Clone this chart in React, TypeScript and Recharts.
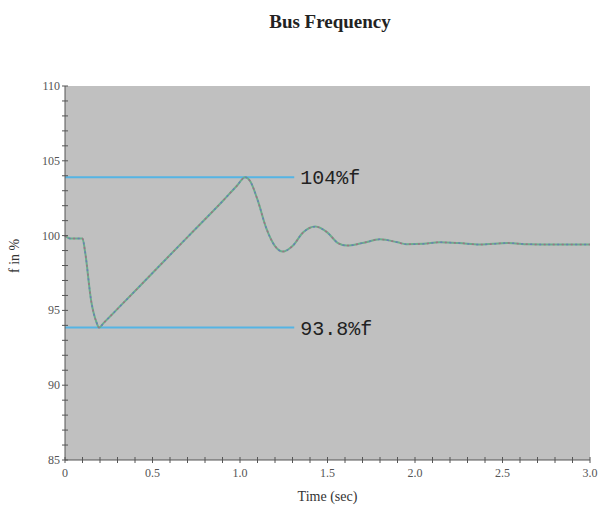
import React from "react";
import {
  LineChart,
  Line,
  XAxis,
  YAxis,
  ReferenceLine,
  ReferenceArea,
} from "recharts";

// time (sec) and bus frequency (% of nominal)
const timeValues = [
  0, 0.03, 0.06, 0.1, 0.115, 0.15, 0.18, 0.195, 0.22, 0.3, 0.5, 0.7, 0.9, 0.98,
  1.03, 1.06, 1.1, 1.15, 1.2, 1.245, 1.3, 1.36, 1.43, 1.5, 1.56, 1.61, 1.7, 1.8,
  1.9, 1.95, 2.05, 2.14, 2.25, 2.37, 2.53, 2.65, 2.8, 3.0,
];
const freqValues = [
  100, 99.8, 99.8, 99.8, 98.9, 95.6, 94.2, 93.85, 94.15, 95.1, 97.5, 99.9,
  102.3, 103.3, 103.9, 103.6, 102.4, 100.5, 99.3, 98.93, 99.3, 100.2, 100.6,
  100.2, 99.5, 99.33, 99.5, 99.75, 99.55, 99.42, 99.45, 99.55, 99.5, 99.4, 99.5,
  99.42, 99.4, 99.4,
];

const limitValues = [103.9, 93.85];
const limitLabels = ["104%f", "93.8%f"];
const limitEnd = 1.31;

const xMajorTicks = [0, 0.5, 1, 1.5, 2, 2.5, 3];
const xTickLabels = ["0", "0.5", "1.0", "1.5", "2.0", "2.5", "3.0"];
const xAllTicks = [
  0, 0.1, 0.2, 0.3, 0.4, 0.5, 0.6, 0.7, 0.8, 0.9, 1, 1.1, 1.2, 1.3, 1.4, 1.5,
  1.6, 1.7, 1.8, 1.9, 2, 2.1, 2.2, 2.3, 2.4, 2.5, 2.6, 2.7, 2.8, 2.9, 3,
];
const yMajorTicks = [85, 90, 95, 100, 105, 110];
const yAllTicks = [
  85, 86, 87, 88, 89, 90, 91, 92, 93, 94, 95, 96, 97, 98, 99, 100, 101, 102,
  103, 104, 105, 106, 107, 108, 109, 110,
];

const data = timeValues.map((t, i) => ({ t, f: freqValues[i] }));

const serif = "'Liberation Serif', 'DejaVu Serif', serif";

function XTick({ x, y, payload }: any) {
  const v = payload.value;
  const idx = xMajorTicks.findIndex((m) => Math.abs(m - v) < 1e-6);
  return (
    <g>
      <line x1={x} x2={x} y1={y - 3} y2={y + 3} stroke="#555" />
      {idx >= 0 && (
        <text x={x} y={y + 17} textAnchor="middle" fontSize={12} fill="#555" fontFamily={serif}>
          {xTickLabels[idx]}
        </text>
      )}
    </g>
  );
}

function YTick({ x, y, payload }: any) {
  const v = payload.value;
  const major = yMajorTicks.includes(v);
  return (
    <g>
      <line x1={x - 3} x2={x + 3} y1={y} y2={y} stroke="#555" />
      {major && (
        <text x={x - 5} y={y + 4} textAnchor="end" fontSize={12} fill="#555" fontFamily={serif}>
          {v}
        </text>
      )}
    </g>
  );
}

export default function App() {
  return (
    <div style={{ position: "absolute", left: 0, top: 0, width: 613, height: 509, background: "#fff" }}>
      <div
        style={{
          position: "absolute",
          top: 11,
          left: 0,
          width: 660,
          textAlign: "center",
          fontFamily: serif,
          fontWeight: "bold",
          fontSize: 19,
          color: "#222",
        }}
      >
        Bus Frequency
      </div>
      <LineChart
        width={613}
        height={509}
        data={data}
        margin={{ top: 86, right: 23, bottom: 0, left: 0 }}
      >
        <ReferenceArea x1={0} x2={3} y1={85} y2={110} fill="#c0c0c0" fillOpacity={1} stroke="none" />
        <XAxis
          dataKey="t"
          type="number"
          domain={[0, 3]}
          ticks={xAllTicks}
          interval={0}
          tick={<XTick />}
          tickLine={false}
          tickSize={0}
          tickMargin={0}
          height={49}
          stroke="#555"
          label={{ value: "Time (sec)", position: "insideBottom", offset: 8, fill: "#333", fontSize: 14, fontFamily: serif }}
        />
        <YAxis
          type="number"
          domain={[85, 110]}
          ticks={yAllTicks}
          interval={0}
          tick={<YTick />}
          tickLine={false}
          tickSize={0}
          tickMargin={0}
          width={65}
          stroke="#555"
          label={{ value: "f in %", angle: -90, position: "insideLeft", offset: 14, fill: "#333", fontSize: 14, fontFamily: serif }}
        />
        {limitValues.map((v, i) => (
          <ReferenceLine
            key={i}
            segment={[
              { x: 0, y: v },
              { x: limitEnd, y: v },
            ]}
            stroke="#55b4e4"
            strokeWidth={2}
            label={{
              value: limitLabels[i],
              position: "right",
              offset: 6,
              fill: "#222",
              fontSize: 20,
              fontFamily: "'Liberation Mono', 'DejaVu Sans Mono', monospace",
            }}
          />
        ))}
        <Line
          type="monotone"
          dataKey="f"
          stroke="#6aae8c"
          strokeWidth={2}
          dot={false}
          isAnimationActive={false}
        />
        <Line
          type="monotone"
          dataKey="f"
          stroke="#a06e86"
          strokeWidth={1.5}
          strokeDasharray="2 7"
          dot={false}
          isAnimationActive={false}
        />
        <Line
          type="monotone"
          dataKey="f"
          stroke="#6a7ab8"
          strokeWidth={1.5}
          strokeDasharray="0 4.5 2 2.5"
          dot={false}
          isAnimationActive={false}
        />
      </LineChart>
    </div>
  );
}
